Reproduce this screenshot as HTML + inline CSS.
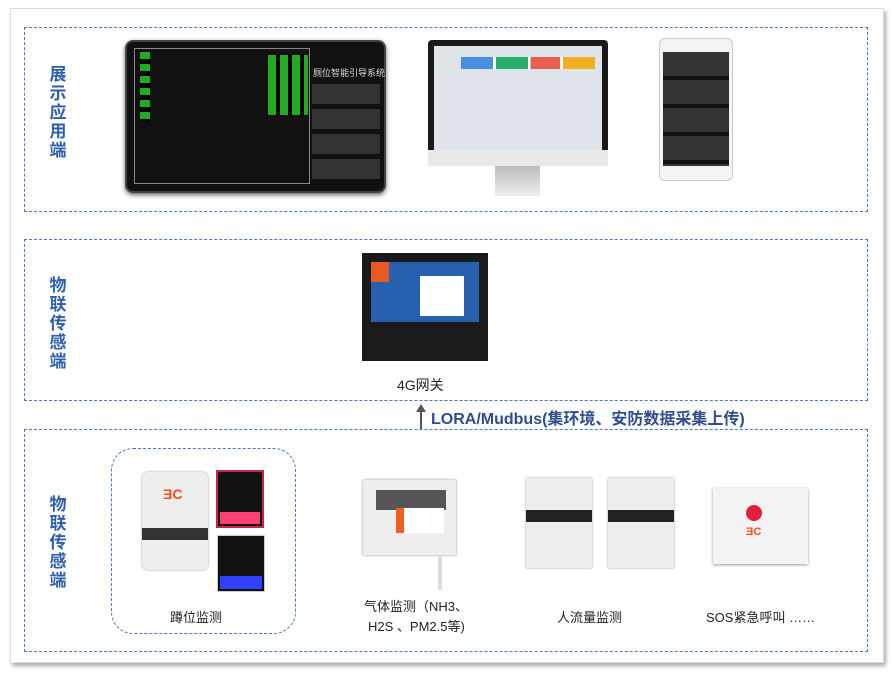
<!DOCTYPE html>
<html><head><meta charset="utf-8"><style>
body{margin:0;width:892px;height:674px;background:#fff;position:relative;overflow:hidden;font-family:"Liberation Sans","Noto Sans CJK SC",sans-serif}
.a{position:absolute}
.frame{left:10px;top:8px;width:872px;height:653px;border:1px solid #ddd;box-shadow:2px 3px 4px #aaa;background:#fff}
.sec{border:1px dashed #4a78c8}
.lbl{color:#2e5fae;font-weight:bold;font-size:17px;line-height:19px;width:20px;text-align:center}
.t{font-size:13px;color:#222;white-space:nowrap}
</style></head><body>
<div class="a frame"></div>
<div class="a sec" style="left:24px;top:27px;width:842px;height:183px"></div>
<div class="a sec" style="left:24px;top:239px;width:842px;height:160px"></div>
<div class="a sec" style="left:24px;top:429px;width:842px;height:221px"></div>
<div class="a lbl" style="left:48px;top:65px">展示应用端</div>
<div class="a lbl" style="left:48px;top:276px">物联传感端</div>
<div class="a lbl" style="left:48px;top:495px">物联传感端</div>

<!-- tablet -->
<div class="a" style="left:125px;top:40px;width:261px;height:153px;background:#111;border-radius:8px;box-shadow:0 2px 5px #666;border:2px solid #444;box-sizing:border-box"></div>
<div class="a" style="left:134px;top:48px;width:176px;height:136px;border:1px solid #888;box-sizing:border-box"></div>
<div class="a" style="left:140px;top:52px;width:10px;height:70px;background:repeating-linear-gradient(#2a2 0 7px,#000 7px 12px)"></div>
<div class="a" style="left:268px;top:55px;width:40px;height:60px;background:repeating-linear-gradient(90deg,#2a2 0 8px,#000 8px 12px)"></div>
<div class="a" style="left:313px;top:66px;font-size:9px;color:#ddd;white-space:nowrap">厕位智能引导系统</div>
<div class="a" style="left:312px;top:84px;width:68px;height:100px;background:repeating-linear-gradient(#333 0 20px,#111 20px 25px)"></div>
<!-- monitor -->
<div class="a" style="left:428px;top:40px;width:180px;height:126px;background:#1a1a1a;border-radius:4px"></div>
<div class="a" style="left:434px;top:46px;width:168px;height:104px;background:#dfe3ea"></div>
<div class="a" style="left:461px;top:57px;width:134px;height:12px;background:linear-gradient(90deg,#4a90e2 0 24%,#fff 24% 26%,#2ab06a 26% 50%,#fff 50% 52%,#e7604f 52% 74%,#fff 74% 76%,#f0b020 76%)"></div>
<div class="a" style="left:428px;top:150px;width:180px;height:16px;background:#e8e8e8"></div>
<div class="a" style="left:495px;top:166px;width:45px;height:30px;background:linear-gradient(#bbb,#eee)"></div>
<!-- phone -->
<div class="a" style="left:659px;top:38px;width:74px;height:143px;background:#f4f4f4;border:1px solid #ccc;border-radius:6px;box-sizing:border-box"></div>
<div class="a" style="left:663px;top:52px;width:66px;height:114px;background:repeating-linear-gradient(#333 0 24px,#111 24px 28px)"></div>

<!-- gateway -->
<div class="a" style="left:362px;top:253px;width:126px;height:108px;background:#1a1a1a"></div>
<div class="a" style="left:371px;top:262px;width:108px;height:60px;background:#2860b0"></div>
<div class="a" style="left:420px;top:276px;width:44px;height:40px;background:#fff"></div>
<div class="a" style="left:371px;top:262px;width:18px;height:20px;background:#e85a20"></div>
<div class="a t" style="left:397px;top:375px;font-size:14px">4G网关</div>
<div class="a" style="left:420px;top:410px;width:2px;height:19px;background:#555"></div>
<div class="a" style="left:416px;top:404px;border-left:5px solid transparent;border-right:5px solid transparent;border-bottom:8px solid #555"></div>
<div class="a" style="left:431px;top:405px;font-size:16px;font-weight:bold;color:#2e4d8e;white-space:nowrap">LORA/Mudbus(集环境、安防数据采集上传)</div>

<!-- section 3 -->
<div class="a" style="left:111px;top:448px;width:183px;height:184px;border:1px dashed #4a78c8;border-radius:22px"></div>
<div class="a" style="left:142px;top:472px;width:66px;height:98px;background:#eee;border-radius:6px;box-shadow:0 0 2px #999"></div>
<div class="a" style="left:142px;top:528px;width:66px;height:12px;background:#333"></div>
<div class="a" style="left:163px;top:486px;color:#f05020;font-weight:bold;font-size:14px">ƎC</div>
<div class="a" style="left:216px;top:470px;width:48px;height:58px;background:#111;border:2px solid #d0204a;box-sizing:border-box"></div>
<div class="a" style="left:220px;top:512px;width:40px;height:12px;background:#ff4070"></div>
<div class="a" style="left:217px;top:535px;width:48px;height:57px;background:#111;border:1px solid #ccc;box-sizing:border-box"></div>
<div class="a" style="left:220px;top:576px;width:42px;height:13px;background:#3040ff"></div>
<div class="a t" style="left:170px;top:607px">蹲位监测</div>

<div class="a" style="left:363px;top:480px;width:93px;height:75px;background:#eee;box-shadow:0 0 3px #999"></div>
<div class="a" style="left:376px;top:490px;width:70px;height:20px;background:#555"></div>
<div class="a" style="left:396px;top:508px;width:40px;height:25px;background:#fff;border-left:8px solid #f06020"></div>
<div class="a" style="left:438px;top:555px;width:4px;height:35px;background:#ddd"></div>
<div class="a t" style="left:364px;top:596px">气体监测（NH3、</div>
<div class="a t" style="left:368px;top:616px">H2S 、PM2.5等)</div>

<div class="a" style="left:526px;top:478px;width:66px;height:90px;background:#eee;box-shadow:0 0 2px #999"></div>
<div class="a" style="left:526px;top:510px;width:66px;height:12px;background:#222"></div>
<div class="a" style="left:608px;top:478px;width:66px;height:90px;background:#eee;box-shadow:0 0 2px #999"></div>
<div class="a" style="left:608px;top:510px;width:66px;height:12px;background:#222"></div>
<div class="a t" style="left:557px;top:607px">人流量监测</div>

<div class="a" style="left:713px;top:488px;width:95px;height:76px;background:#f3f3f3;box-shadow:0 1px 3px #999"></div>
<div class="a" style="left:746px;top:505px;width:16px;height:16px;background:#e0203a;border-radius:50%"></div>
<div class="a" style="left:746px;top:526px;color:#f05020;font-weight:bold;font-size:11px">ƎC</div>
<div class="a t" style="left:706px;top:607px">SOS紧急呼叫 ……</div>
</body></html>
